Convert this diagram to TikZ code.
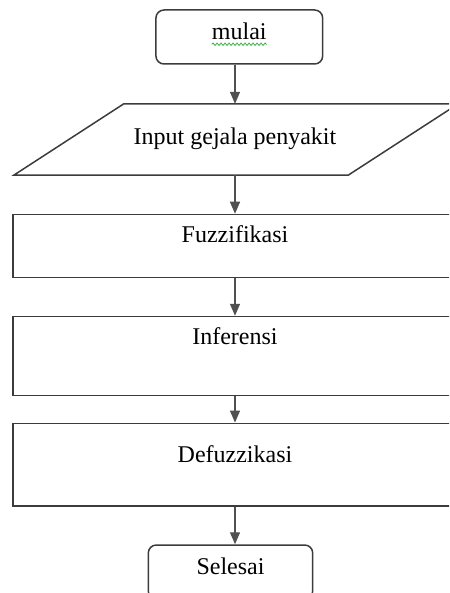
\documentclass[tikz,border=0pt]{standalone}
\usepackage{fontspec}
\setmainfont{Liberation Serif}
\usetikzlibrary{arrows.meta,decorations.pathmorphing}
\definecolor{edge}{HTML}{3C3C3C}
\definecolor{arrowgray}{HTML}{505050}
\definecolor{spell}{HTML}{3DAF48}
\begin{document}
\begin{tikzpicture}[x=1pt,y=-1pt,
  box/.style={draw=edge,line width=1.5pt,rectangle,inner sep=0pt,fill=white},
  term/.style={box,rounded corners=8pt},
  ghost/.style={rectangle,inner sep=0pt,minimum width=444pt,minimum height=71pt},
  lbl/.style={anchor=base,inner sep=0pt,font=\fontsize{24}{28}\selectfont},
  arr/.style={draw=arrowgray,line width=1.3pt,-{Triangle[width=10pt,length=12pt]}}]
\useasboundingbox (0,0) rectangle (449,593);
\fill[white] (0,0) rectangle (449,593);
\clip (0,0) rectangle (449,593);

% terminals
\node[term,minimum width=166.7pt,minimum height=54pt] (mulai) at (239.3,37) {};
\node[lbl] (tmulai) at ([yshift=-30pt]mulai.north) {mulai};
\draw[spell,line width=0.8pt,decorate,decoration={snake,amplitude=1.2pt,segment length=4pt}]
  ([yshift=-5pt]tmulai.base west) -- ([yshift=-5pt]tmulai.base east);

% input parallelogram
\node[ghost] (para) at (236,139.5) {};
\draw[edge,line width=1.5pt] (para.south west) -- ([xshift=110pt]para.north west)
  -- (para.north east) -- ([xshift=-110pt]para.south east) -- cycle;
\node[lbl] (tpara) at (235,144.3) {Input gejala penyakit};

% process boxes
\node[box,minimum width=444pt,minimum height=63.2pt] (fuz) at (235,246.1) {};
\node[lbl] (tfuz) at ([yshift=-28.5pt]fuz.north) {Fuzzifikasi};

\node[box,minimum width=444pt,minimum height=79.2pt] (inf) at (235,356.1) {};
\node[lbl] (tinf) at ([yshift=-29.2pt]inf.north) {Inferensi};

\node[box,minimum width=444pt,minimum height=82.7pt] (def) at (235,464.65) {};
\node[lbl] (tdef) at ([yshift=-40pt]def.north) {Defuzzikasi};

\node[term,minimum width=164.4pt,minimum height=54pt] (sel) at (230.5,572) {};
\node[lbl] (tsel) at ([yshift=-30pt]sel.north) {Selesai};

% connectors
\draw[arr] (fuz.north |- mulai.south) -- (fuz.north |- para.north);
\draw[arr] (fuz.north |- para.south) -- (fuz.north);
\draw[arr] (fuz.south) -- (inf.north);
\draw[arr] (inf.south) -- (def.north);
\draw[arr] (def.south) -- (def.south |- sel.north);
\end{tikzpicture}
\end{document}
